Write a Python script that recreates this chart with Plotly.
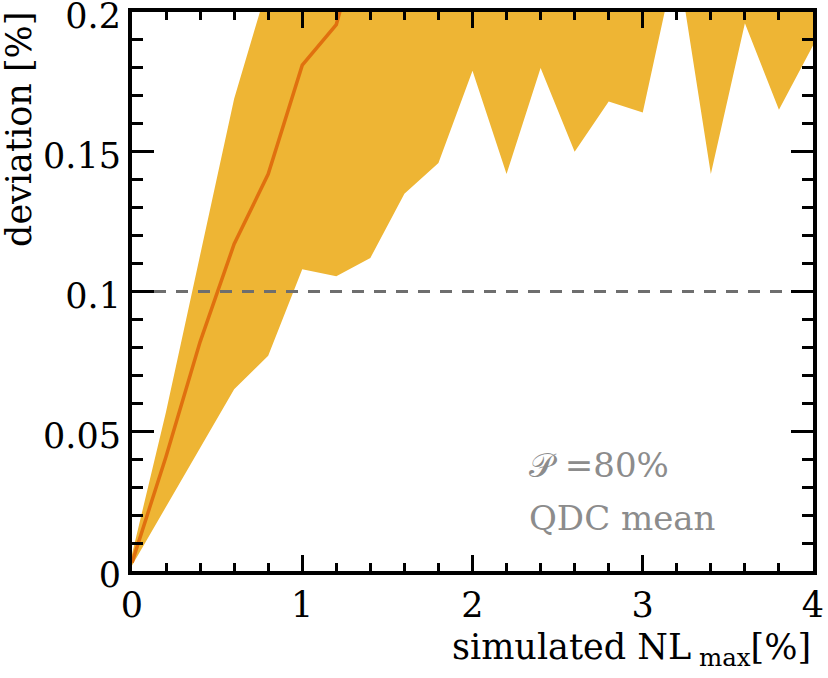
import plotly.graph_objects as go

# Data
x_vals = [0.0, 0.2, 0.4, 0.6, 0.8, 1.0, 1.2, 1.4, 1.6, 1.8, 2.0,
          2.2, 2.4, 2.6, 2.8, 3.0, 3.2, 3.4, 3.6, 3.8, 4.0]
band_lower = [0.002, 0.023, 0.044, 0.065, 0.077, 0.108, 0.1055, 0.112, 0.135, 0.146, 0.179,
              0.142, 0.180, 0.150, 0.168, 0.164, 0.220, 0.142, 0.196, 0.165, 0.188]
band_upper = [0.006, 0.057, 0.113, 0.169, 0.210, 0.25, 0.25, 0.25, 0.25, 0.25, 0.25,
              0.25, 0.25, 0.25, 0.25, 0.25, 0.26, 0.25, 0.25, 0.25, 0.25]
median_x = [0.0, 0.2, 0.4, 0.6, 0.8, 1.0, 1.2, 1.4]
median_y = [0.003, 0.041, 0.082, 0.117, 0.142, 0.181, 0.1955, 0.24]
threshold_x = [0, 4]
threshold_y = [0.1, 0.1]
x_ticks = [0, 1, 2, 3, 4]
x_ticklabels = ["0", "1", "2", "3", "4"]
y_ticks = [0, 0.05, 0.1, 0.15, 0.2]
y_ticklabels = ["0", "0.05", "0.1", "0.15", "0.2"]

FONT = "DejaVu Serif"
BAND = "#EEB534"
LINE = "#E0700F"

fig = go.Figure()
fig.add_trace(go.Scatter(x=x_vals, y=band_lower, mode="lines", line=dict(width=0, color=BAND),
                         showlegend=False, hoverinfo="skip"))
fig.add_trace(go.Scatter(x=x_vals, y=band_upper, mode="lines", line=dict(width=0, color=BAND),
                         fill="tonexty", fillcolor=BAND, showlegend=False, hoverinfo="skip"))
fig.add_trace(go.Scatter(x=threshold_x, y=threshold_y, mode="lines",
                         line=dict(color="#6e6e6e", width=3, dash="12px,10px"), showlegend=False))
fig.add_trace(go.Scatter(x=median_x, y=median_y, mode="lines",
                         line=dict(color=LINE, width=3.5), showlegend=False))

axis_common = dict(showgrid=False, zeroline=False, showline=True, linecolor="black", linewidth=4,
                   mirror="allticks", ticks="inside", tickcolor="black", tickwidth=3,
                   automargin=False, ticklabeloverflow="allow",
                   tickfont=dict(family=FONT, size=35, color="black"))

fig.update_xaxes(range=[0, 4], tickmode="array", tickvals=x_ticks, ticktext=x_ticklabels, ticklen=16,
                 minor=dict(dtick=0.2, tick0=0, ticks="inside", ticklen=8, tickwidth=3, tickcolor="black"),
                 **axis_common)
fig.update_yaxes(range=[0, 0.2], tickmode="array", tickvals=y_ticks, ticktext=y_ticklabels, ticklen=22,
                 ticklabelshift=4,
                 minor=dict(dtick=0.01, tick0=0, ticks="inside", ticklen=11, tickwidth=3, tickcolor="black"),
                 **axis_common)

fig.add_annotation(text="deviation [%]", xref="paper", yref="paper", x=-0.165, y=0.79,
                   textangle=-90, showarrow=False, xanchor="center", yanchor="middle",
                   font=dict(family=FONT, size=35, color="black"))
fig.add_annotation(text="simulated NL<sub> max</sub>[%]", xref="paper", yref="paper", x=1.0, y=-0.14,
                   showarrow=False, xanchor="right", yanchor="middle",
                   font=dict(family=FONT, size=35, color="black"))
fig.add_annotation(text="𝒫 =80%", xref="x", yref="y", x=2.32, y=0.038, showarrow=False,
                   xanchor="left", yanchor="middle", font=dict(family=FONT, size=34, color="#8c8c8c"))
fig.add_annotation(text="QDC mean", xref="x", yref="y", x=2.32, y=0.019, showarrow=False,
                   xanchor="left", yanchor="middle", font=dict(family=FONT, size=34, color="#8c8c8c"))

fig.update_layout(width=828, height=678, margin=dict(l=132, r=15, t=12, b=107),
                  plot_bgcolor="white", paper_bgcolor="white", showlegend=False)

fig.write_html("out.html", config={"displayModeBar": False},
               post_script="document.body.style.margin='0';")
